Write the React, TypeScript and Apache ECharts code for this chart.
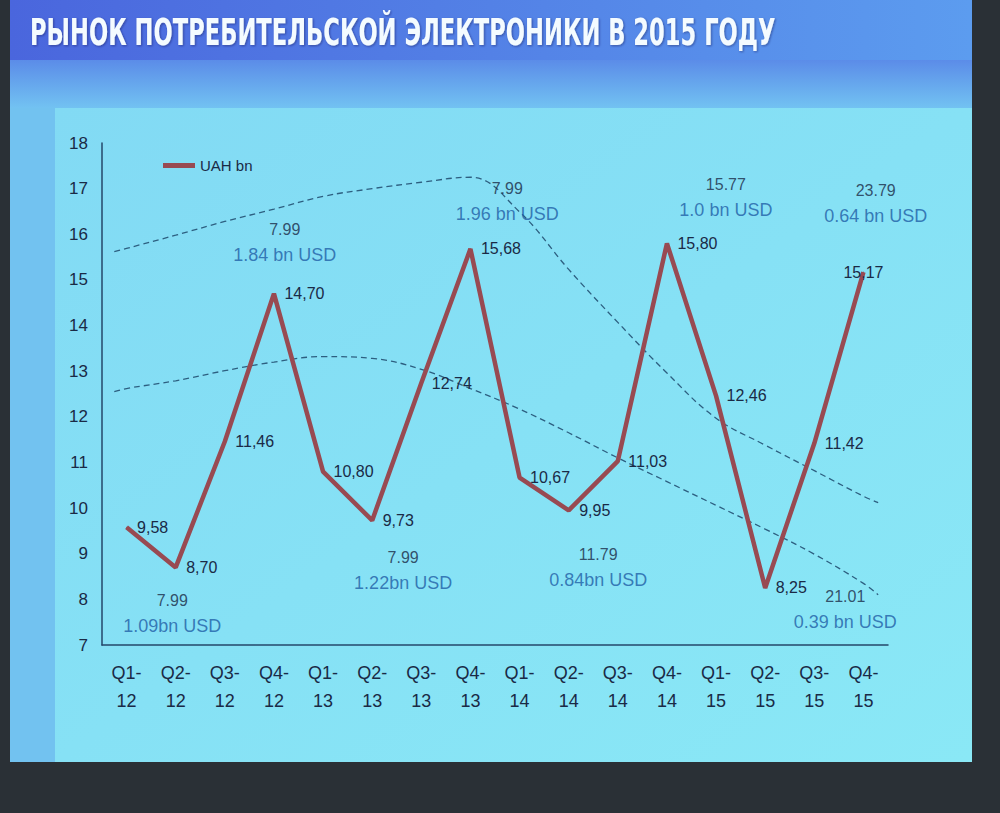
import React, { useEffect, useRef } from "react";
import * as echarts from "echarts";

const TITLE = "РЫНОК ПОТРЕБИТЕЛЬСКОЙ ЭЛЕКТРОНИКИ В 2015 ГОДУ";
const SERIES_NAME = "UAH bn";

const quarters = [
  "Q1-12", "Q2-12", "Q3-12", "Q4-12",
  "Q1-13", "Q2-13", "Q3-13", "Q4-13",
  "Q1-14", "Q2-14", "Q3-14", "Q4-14",
  "Q1-15", "Q2-15", "Q3-15", "Q4-15",
];

const uahBn = [9.58, 8.7, 11.46, 14.7, 10.8, 9.73, 12.74, 15.68, 10.67, 9.95, 11.03, 15.8, 12.46, 8.25, 11.42, 15.17];

// dashed trend curves, sampled at category index positions
const trendIndex = [-0.25, 0, 1, 2, 3, 4, 5, 6, 7, 8, 9, 10, 11, 12, 13, 14, 15, 15.3];
const upperTrend = [15.62, 15.69, 15.98, 16.28, 16.55, 16.83, 17.0, 17.14, 17.25, 16.49, 15.23, 14.07, 12.96, 11.97, 11.38, 10.82, 10.26, 10.12];
const lowerTrend = [12.55, 12.62, 12.79, 13.01, 13.2, 13.32, 13.28, 13.04, 12.62, 12.17, 11.65, 11.1, 10.58, 10.06, 9.54, 8.99, 8.35, 8.1];

// exchange-rate / USD annotations
const annotationRate = ["7.99", "7.99", "7.99", "7.99", "11.79", "15.77", "23.79", "21.01"];
const annotationUsd = ["1.09bn USD", "1.84 bn USD", "1.22bn USD", "1.96 bn USD", "0.84bn USD", "1.0 bn USD", "0.64 bn USD", "0.39 bn USD"];
const annotationIndex = [0.93, 3.22, 5.63, 7.75, 9.6, 12.2, 15.25, 14.63];
const annotationValue = [7.68, 15.83, 8.63, 16.72, 8.7, 16.8, 16.67, 7.77];

const yTicks = { min: 7, max: 18, step: 1 };

const TEXT = "#1a2a46";
const BLUE_TEXT = "#1f5ea6";
const LINE = "#984a52";
const DASH = "#2d5f80";
const FONT = "'Liberation Sans', Arial, sans-serif";

export default function App() {
  const ref = useRef<HTMLDivElement>(null);

  useEffect(() => {
    if (!ref.current) return;
    const chart = echarts.init(ref.current, null, { renderer: "svg" });

    const option: any = {
      animation: false,
      backgroundColor: "#2a3036",
      textStyle: { fontFamily: FONT },
      graphic: [
        { type: "rect", silent: true, z: -10, shape: { x: 10, y: 0, width: 962, height: 762 }, style: { fill: "#72c2f0" } },
        {
          type: "rect", silent: true, z: -9, shape: { x: 10, y: 0, width: 962, height: 60 },
          style: { fill: new echarts.graphic.LinearGradient(0, 0, 1, 0, [{ offset: 0, color: "#4a66dd" }, { offset: 1, color: "#5c9cef" }]) },
        },
        {
          type: "rect", silent: true, z: -9, shape: { x: 10, y: 60, width: 962, height: 48 },
          style: { fill: new echarts.graphic.LinearGradient(0, 0, 0, 1, [{ offset: 0, color: "#5b8ce8" }, { offset: 1, color: "#72c2f2" }]) },
        },
        {
          type: "rect", silent: true, z: -8, shape: { x: 55, y: 108, width: 917, height: 654 },
          style: { fill: new echarts.graphic.LinearGradient(0, 0, 1, 1, [{ offset: 0, color: "#82daf4" }, { offset: 1, color: "#8ae8f6" }]) },
        },
        {
          type: "text", silent: true, z: 10, x: 30, y: 14, scaleX: 0.68,
          style: {
            text: TITLE, fill: "#f4fbff", font: "bold 37px 'Liberation Sans Narrow', 'DejaVu Sans Condensed', sans-serif",
            textShadowColor: "rgba(20,30,80,0.45)", textShadowBlur: 2, textShadowOffsetX: 1, textShadowOffsetY: 1,
          },
        },
      ],
      legend: {
        data: [SERIES_NAME],
        left: 158, top: 153,
        icon: "rect", itemWidth: 32, itemHeight: 5, itemGap: 6,
        textStyle: { color: TEXT, fontSize: 15, fontFamily: FONT },
      },
      grid: { left: 102, right: 112, top: 143, bottom: 168 },
      xAxis: [
        {
          type: "category",
          data: quarters,
          boundaryGap: true,
          axisLine: { show: true, onZero: false, lineStyle: { color: "#24476a", width: 1.5 } },
          axisTick: { show: false },
          splitLine: { show: false },
          axisLabel: {
            color: TEXT, fontSize: 18, lineHeight: 28, margin: 14, fontFamily: FONT, interval: 0,
            formatter: (v: string) => v.replace("-", "-\n"),
          },
        },
        { type: "value", min: -0.5, max: 15.5, show: false },
      ],
      yAxis: {
        type: "value",
        min: yTicks.min, max: yTicks.max, interval: yTicks.step,
        axisLine: { show: true, onZero: false, lineStyle: { color: "#24476a", width: 1.5 } },
        axisTick: { show: false },
        splitLine: { show: false },
        axisLabel: { color: TEXT, fontSize: 17, margin: 14, fontFamily: FONT },
      },
      series: [
        {
          name: "upper trend", type: "line", xAxisIndex: 1, silent: true, smooth: 0.4, symbol: "none",
          data: trendIndex.map((x, i) => [x, upperTrend[i]]),
          lineStyle: { color: DASH, width: 1.3, type: [6, 4] }, z: 2,
        },
        {
          name: "lower trend", type: "line", xAxisIndex: 1, silent: true, smooth: 0.4, symbol: "none",
          data: trendIndex.map((x, i) => [x, lowerTrend[i]]),
          lineStyle: { color: DASH, width: 1.3, type: [6, 4] }, z: 2,
        },
        {
          name: SERIES_NAME, type: "line", data: uahBn.map((v, i) => ({
            value: v,
            label: i === uahBn.length - 1 ? { position: "inside" } : undefined,
          })),
          symbol: "circle", symbolSize: 1, showSymbol: true,
          itemStyle: { color: LINE },
          lineStyle: { color: LINE, width: 4.5 },
          z: 3,
          label: {
            show: true, position: "right", distance: 10, color: TEXT, fontSize: 16, fontFamily: FONT,
            formatter: (p: any) => Number(p.value).toFixed(2).replace(".", ","),
          },
        },
        {
          name: "annotations", type: "scatter", xAxisIndex: 1, silent: true, symbolSize: 1,
          itemStyle: { color: "rgba(0,0,0,0)" },
          data: annotationIndex.map((x, i) => [x, annotationValue[i]]),
          z: 4,
          label: {
            show: true, position: "inside",
            formatter: (p: any) => `{r|${annotationRate[p.dataIndex]}}\n{u|${annotationUsd[p.dataIndex]}}`,
            rich: {
              r: { color: TEXT, fontSize: 16, lineHeight: 25, fontFamily: FONT, align: "center" },
              u: { color: BLUE_TEXT, fontSize: 18, lineHeight: 26, fontFamily: FONT, align: "center" },
            },
          },
        },
      ],
    };

    chart.setOption(option);
    return () => chart.dispose();
  }, []);

  return <div ref={ref} style={{ position: "absolute", left: 0, top: 0, width: 1000, height: 813 }} />;
}
